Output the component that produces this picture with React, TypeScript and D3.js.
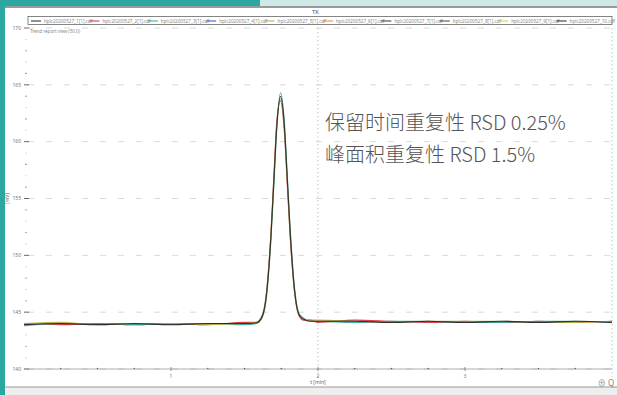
import React from 'react'
import * as d3 from 'd3'

// retention time axis (min) and detector signal (mV) for overlaid runs
const times = [0, 0.25, 0.5, 0.75, 1.0, 1.25, 1.5, 1.58, 1.62, 1.65, 1.68, 1.7, 1.72, 1.745, 1.77, 1.79, 1.81, 1.84, 1.87, 1.9, 1.95, 2.0, 2.25, 2.5, 2.75, 3.0, 3.25, 3.5, 3.75, 4.0]
const run1 = [143.9, 144.0, 143.9, 144.0, 143.9, 144.0, 144.0, 144.05, 144.6, 146.6, 151.7, 156.6, 161.4, 164.0, 161.6, 157.0, 152.2, 147.0, 144.8, 144.4, 144.2, 144.2, 144.2, 144.1, 144.2, 144.1, 144.2, 144.1, 144.2, 144.1]
const run2 = [144.0, 143.9, 144.0, 143.9, 144.0, 143.9, 144.1, 144.1, 144.7, 146.8, 152.0, 157.0, 161.8, 163.6, 161.1, 156.5, 151.8, 146.8, 144.7, 144.3, 144.3, 144.1, 144.3, 144.2, 144.1, 144.2, 144.1, 144.2, 144.1, 144.2]
const run3 = [143.8, 144.0, 144.0, 143.9, 144.0, 144.0, 143.9, 144.0, 144.5, 146.4, 151.4, 156.3, 161.2, 164.3, 161.9, 157.3, 152.5, 147.2, 144.9, 144.5, 144.2, 144.2, 144.1, 144.2, 144.2, 144.1, 144.1, 144.2, 144.2, 144.1]
const run4 = [144.0, 144.1, 143.9, 144.0, 144.0, 143.9, 144.0, 144.1, 144.6, 146.7, 151.8, 156.8, 161.6, 163.8, 161.4, 156.8, 152.0, 146.9, 144.8, 144.4, 144.3, 144.3, 144.2, 144.1, 144.2, 144.2, 144.2, 144.1, 144.1, 144.2]

const legendNames = ['hplc20200527_1[1].cdf', 'hplc20200527_2[1].cdf', 'hplc20200527_3[1].cdf', 'hplc20200527_4[1].cdf', 'hplc20200527_5[1].cdf', 'hplc20200527_6[1].cdf', 'hplc20200527_7[1].cdf', 'hplc20200527_8[1].cdf', 'hplc20200527_9[1].cdf', 'hplc20200527_10.cdf']
const legendColors = ['#222222', '#d8283c', '#2aa6a0', '#2b56c0', '#b3b040', '#e08a2a', '#333333', '#444444', '#b8d848', '#222222']

const yTicks = [170, 165, 160, 155, 150, 145, 140]
const xTicks = [1, 2, 3]
const notes = ['保留时间重复性 RSD 0.25%', '峰面积重复性 RSD 1.5%']

const runs = [
  { values: run2, color: '#d8283c' },
  { values: run3, color: '#2aa6a0' },
  { values: run4, color: '#b3b040' },
  { values: run1, color: '#222222' },
]

export default function App() {
  const margin = { left: 24, right: 5, top: 28, bottom: 26 }
  const W = 617, H = 395
  const x = d3.scaleLinear().domain([0, 4]).range([margin.left, W - margin.right])
  const y = d3.scaleLinear().domain([140, 170]).range([H - margin.bottom, margin.top])
  const line = d3.line<number>().x((d, i) => x(times[i])).y(d => y(d)).curve(d3.curveMonotoneX)

  const minorY = d3.range(140, 170, 1).filter(v => v % 5 !== 0)
  const minorX = d3.range(0.25, 4, 0.25).filter(v => v % 1 !== 0)

  const legX0 = 28, legX1 = 612
  const legStep = (legX1 - legX0) / legendNames.length

  return (
    <svg width={W} height={H} style={{ position: 'fixed', left: 0, top: 0, background: '#fff' }}
      fontFamily="'Noto Sans', 'Noto Sans CJK SC', sans-serif">
      {/* window frame */}
      <rect x={0} y={0} width={W} height={6} fill="#2ba7a0" />
      <rect x={260} y={0} width={W - 260} height={6} fill="#cfe9e6" />
      <rect x={0} y={0} width={5} height={H} fill="#2ba7a0" />
      <rect x={5} y={6} width={W - 5} height={2} fill="#9a9a9a" />
      <rect x={5} y={387} width={W - 5} height={8} fill="#eeeeee" />
      <line x1={5} x2={W} y1={387} y2={387} stroke="#999" />

      <text x={312} y={14} fontSize={6} fill="#555">TK</text>

      {/* legend */}
      <rect x={legX0} y={16.5} width={legX1 - legX0} height={8} fill="#fff" stroke="#666" strokeWidth={0.8} />
      {legendNames.map((n, i) => (
        <g key={n} transform={`translate(${legX0 + 3 + i * legStep},21)`}>
          <line x1={0} x2={10} y1={0} y2={0} stroke={legendColors[i]} strokeWidth={1} />
          <text x={13} y={1.8} fontSize={4.6} fill="#888">{n}</text>
        </g>
      ))}
      <text x={30} y={33} fontSize={4.5} fill="#888">Trend report view (50.0)</text>

      {/* grid */}
      {yTicks.map(v => (
        <line key={'g' + v} x1={margin.left + 4} x2={W - margin.right} y1={y(v)} y2={y(v)}
          stroke="#cfcfcf" strokeWidth={0.8} strokeDasharray="6,12" />
      ))}
      <line x1={x(2)} x2={x(2)} y1={margin.top} y2={H - margin.bottom + 8} stroke="#b5b5b5" strokeWidth={0.8} strokeDasharray="1.5,2.5" />
      <line x1={x(4)} x2={x(4)} y1={margin.top} y2={H - margin.bottom + 8} stroke="#b5b5b5" strokeWidth={0.8} strokeDasharray="1.5,2.5" />

      {/* y axis */}
      {yTicks.map(v => (
        <g key={'y' + v}>
          <line x1={margin.left} x2={margin.left + 5} y1={y(v)} y2={y(v)} stroke="#555" strokeWidth={0.9} />
          <text x={margin.left - 3} y={y(v) + 1.8} fontSize={5} textAnchor="end" fill="#777">{v}</text>
        </g>
      ))}
      {minorY.map(v => (
        <circle key={'my' + v} cx={margin.left + 2} cy={y(v)} r={0.6} fill={v % 2 ? '#bbb' : '#555'} />
      ))}
      <text transform={`translate(9,${y(155)}) rotate(-90)`} fontSize={5} textAnchor="middle" fill="#666">[mV]</text>

      {/* x axis */}
      <line x1={margin.left} x2={W - margin.right} y1={y(140)} y2={y(140)} stroke="#999" strokeWidth={0.8} />
      {minorX.map(v => (
        <circle key={'mx' + v} cx={x(v)} cy={y(140) - 0.5} r={0.7} fill="#555" />
      ))}
      {xTicks.map(v => (
        <g key={'x' + v}>
          <line x1={x(v)} x2={x(v)} y1={y(140) - 2} y2={y(140) + 2} stroke="#777" strokeWidth={0.8} />
          <text x={x(v)} y={y(140) + 9} fontSize={5} textAnchor="middle" fill="#777">{v}</text>
        </g>
      ))}
      <text x={x(2)} y={y(140) + 15} fontSize={5} textAnchor="middle" fill="#666">t [min]</text>
      <text x={606} y={386} fontSize={8} textAnchor="middle" fill="#888">⊕ Q</text>

      {/* traces */}
      {runs.map((r, i) => (
        <path key={i} d={line(r.values) || ''} fill="none" stroke={r.color} strokeWidth={1.1} opacity={0.9} />
      ))}

      {/* annotations */}
      {notes.map((t, i) => (
        <text key={t} x={325} y={130 + i * 32} fontSize={20} fill="#555"
          fontFamily="'Noto Sans CJK SC', 'Noto Sans', sans-serif" fontWeight={300}>{t}</text>
      ))}
    </svg>
  )
}
